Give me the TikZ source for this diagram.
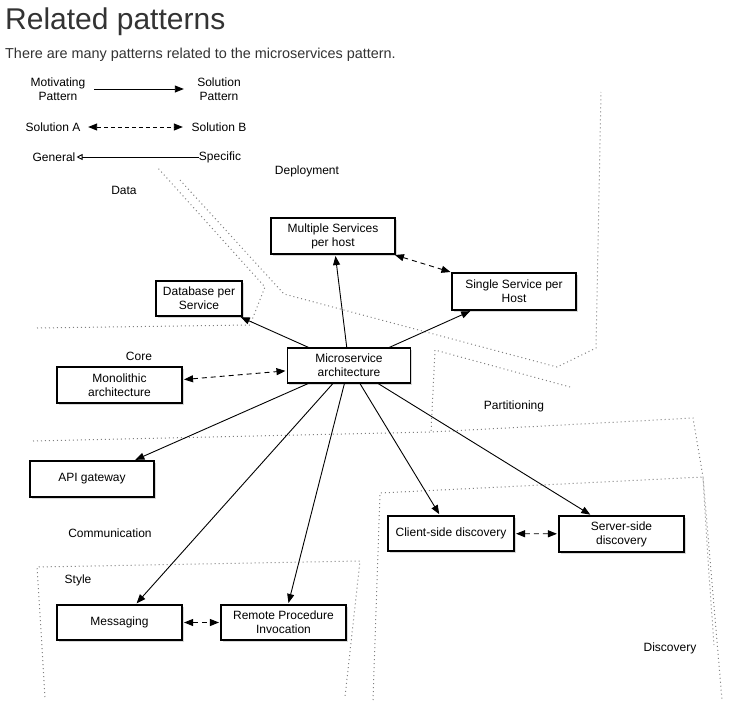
\documentclass[tikz,border=0pt]{standalone}
\usepackage{fontspec}
\setmainfont{Liberation Sans}
\usetikzlibrary{arrows.meta,shadows}
\definecolor{ttl}{HTML}{333333}
\definecolor{dotc}{HTML}{808080}
\begin{document}
\begin{tikzpicture}[x=1pt,y=-1pt,
  box/.style={draw, line width=1.1pt, fill=white, align=center, inner sep=0pt,
    font=\fontsize{12}{14}\selectfont,
    drop shadow={shadow xshift=1.5pt, shadow yshift=-1.5pt, opacity=0.3}},
  lbl/.style={inner sep=0pt, align=center, font=\fontsize{12}{14}\selectfont},
  tip/.tip={Triangle[length=9pt,width=7pt]},
  edge/.style={line width=0.9pt, -tip, shorten >=1.5pt},
  alt/.style={line width=0.9pt, dash pattern=on 5pt off 4pt, tip-tip, shorten >=1.5pt, shorten <=1.5pt},
  region/.style={dotc, line width=1pt, dash pattern=on 1pt off 3pt},
]
\useasboundingbox (0,0) rectangle (732,713);
\fill[white] (0,0) rectangle (732,713);

% title
\node[anchor=base west, inner sep=0pt, text=ttl, font=\fontsize{30}{36}\selectfont] (title) at (5,29) {Related patterns};
\node[anchor=base west, inner sep=0pt, text=ttl, font=\fontsize{14.4}{17}\selectfont] (subtitle) at (5,58) {There are many patterns related to the microservices pattern.};

% legend
\node[lbl] (mot) at (58,89) {Motivating\\Pattern};
\node[lbl] (solp) at (219,89) {Solution\\Pattern};
\draw[line width=0.9pt, -tip] ([xshift=8.6pt]mot.east) -- ([xshift=-13.3pt]solp.west);
\node[lbl] (sola) at (53,127) {Solution A};
\node[lbl] (solb) at (219,127) {Solution B};
\draw[line width=0.9pt, dash pattern=on 4pt off 3pt, tip-tip] ([xshift=7.6pt]sola.east) -- ([xshift=-8.6pt]solb.west);
\node[lbl] (gen) at (54,157) {General};
\node[lbl] (spec) at (220,157) {Specific};
\draw[line width=0.9pt, -{Triangle[open,length=6pt,width=6pt]}] (spec.west) -- ([xshift=1pt]gen.east);

% regions
\draw[region] (37,328) -- (250,325) -- (265,287) -- (157,167);
\draw[region] (180,180) -- (284,294) -- (557,367) -- (596,348) -- (601,92);
\draw[region] (570,387) -- (435,350) -- (431,432);
\draw[region] (33,441) -- (431,432) -- (693,418) -- (703,477) -- (708,560) -- (714,645);
\draw[region] (373,700) -- (380,493) -- (703,477) -- (722,700);
\draw[region] (45,697) -- (37,567) -- (360,561) -- (345,697);

% region labels
\node[lbl] (deploy) at (307,171) {Deployment};
\node[lbl] (data) at (124,190) {Data};
\node[lbl] (core) at (139,356) {Core};
\node[lbl] (part) at (514,406) {Partitioning};
\node[lbl] (comm) at (110,533) {Communication};
\node[lbl] (style) at (78,580) {Style};
\node[lbl] (disc) at (670,648) {Discovery};

% pattern boxes
\node[box, minimum width=124pt, minimum height=36pt] (multi) at (333,236) {Multiple Services\\per host};
\node[box, minimum width=124pt, minimum height=37pt] (single) at (514,291.5) {Single Service per\\Host};
\node[box, minimum width=86pt, minimum height=35pt] (db) at (199,298.5) {Database per\\Service};
\node[box, minimum width=123pt, minimum height=35pt] (micro) at (349,365.5) {Microservice\\architecture};
\node[box, minimum width=125pt, minimum height=36pt] (mono) at (119.5,385) {Monolithic\\architecture};
\node[box, minimum width=124pt, minimum height=36pt] (api) at (92,479) {API gateway};
\node[box, minimum width=126pt, minimum height=35pt] (client) at (451,533.5) {Client-side discovery};
\node[box, minimum width=125pt, minimum height=36pt] (server) at (621.5,534) {Server-side\\discovery};
\node[box, minimum width=125pt, minimum height=35pt] (msg) at (119.5,622.5) {Messaging};
\node[box, minimum width=125pt, minimum height=35pt] (rpi) at (283.5,622.5) {Remote Procedure\\Invocation};

% connectors
\draw[edge] (micro) -- (multi);
\draw[edge] (micro) -- (db);
\draw[edge] (micro) -- (single);
\draw[edge] (micro) -- (api);
\draw[edge] (micro) -- (msg);
\draw[edge] (micro) -- (rpi);
\draw[edge] (micro) -- (client);
\draw[edge] (micro) -- (server);
\draw[alt] (mono) -- (micro);
\draw[alt] (multi) -- (single);
\draw[alt] (client) -- (server);
\draw[alt] (msg) -- (rpi);
\end{tikzpicture}
\end{document}
